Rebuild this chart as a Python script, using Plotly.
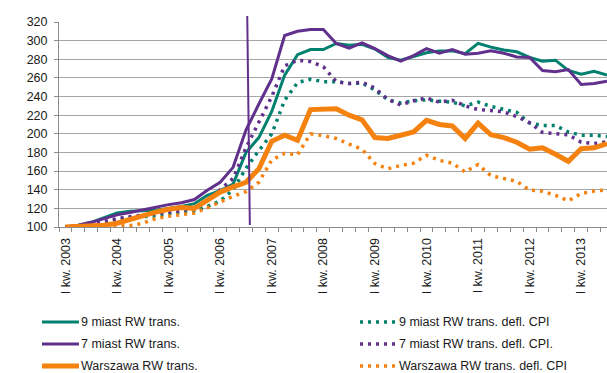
import plotly.graph_objects as go

# Quarter categories, I kw. 2003 .. III kw. 2013
years = list(range(2003, 2014))
roman = ["I", "II", "III", "IV"]
quarters = [f"{r} kw. {y}" for y in years for r in roman][:43]

# Price indices, I kw. 2003 = 100
miast9 = [100, 102, 105, 110, 115, 117, 117.5, 118, 120, 122, 125, 134, 139, 146,
          180, 196, 224, 263, 285, 290.5, 290.5, 297, 295, 296, 291, 282, 279, 283,
          287, 289, 289, 286, 297, 293, 290, 288, 282, 278, 279, 268, 264, 267, 263]
miast7 = [100, 102, 105, 109, 113, 115.5, 118.5, 121.5, 124, 126, 129.5, 139.5, 148,
          164, 204, 232, 259, 305.5, 310, 312, 312, 297, 292, 297.5, 291.5, 284, 278,
          284, 291.5, 286.5, 290.5, 285.5, 286.5, 289, 286.5, 282.5, 282, 268, 266.5,
          269, 253, 254, 256.5]
warszawa = [100, 100.5, 101, 102, 104, 108, 112.5, 116, 119, 121, 120, 129.5, 137.5,
            143, 148, 162.5, 192, 198.5, 193, 226, 226, 227, 220, 215, 196, 195, 198.5,
            202, 214.5, 210, 208.5, 195, 211.5, 199, 196, 191, 183.5, 185, 178, 170.5,
            184, 185, 189.5]
miast9_cpi = [100, 100.5, 102, 104.5, 108, 110, 111, 112, 114, 115.5, 117.5, 122, 128,
              140, 163, 182, 200, 236, 255, 258.5, 256, 256, 254, 254.5, 247, 236.5, 233,
              235.5, 236.5, 235, 234, 230, 234, 229.5, 226, 223, 211.5, 209, 209, 202,
              198.5, 198.5, 197]
miast7_cpi = [100, 101, 103, 106, 109, 111, 113, 114.5, 116, 117.5, 121, 128, 140, 152,
              185, 212, 240, 273, 279, 277.5, 272, 256, 254, 255.5, 249, 237, 231, 235.5,
              238.5, 234, 236, 230, 226, 225, 223.5, 218.5, 212, 201.5, 200, 199, 191,
              189.5, 191.5]
warszawa_cpi = [100, 100, 100, 100.5, 101, 101.5, 104, 109, 111.5, 113.5, 115, 120.5,
                127, 133, 138, 148, 172, 179, 177.5, 200, 198, 195, 189, 183.5, 168,
                162.5, 166, 168.5, 177, 171.5, 168.5, 159, 167, 155, 152, 149, 139.5,
                138.5, 134, 128, 136, 138.5, 140]

TEAL = "#00806e"
PURPLE = "#60308c"
ORANGE = "#f5820f"
FONT = "Liberation Sans, Arial, sans-serif"
TEXT = "#1a1a1a"
DOTS = "3px,5px"

W, H = 607, 373
M_L, M_R, M_T, M_B = 59, 0, 22, 146
PLOT_W = W - M_L - M_R
PLOT_H = H - M_T - M_B


def px(xp):
    """page x pixel -> paper fraction"""
    return (xp - M_L) / PLOT_W


def py(yp):
    """page y pixel -> paper fraction"""
    return (H - M_B - yp) / PLOT_H


x = list(range(len(quarters)))

# (name, values, colour, width, dash, legend column, legend row)
series = [
    ("9 miast RW trans.", miast9, TEAL, 3, "solid", 0, 0),
    ("9 miast RW trans. defl. CPI", miast9_cpi, TEAL, 3.5, DOTS, 1, 0),
    ("7 miast RW trans.", miast7, PURPLE, 3, "solid", 0, 1),
    ("7 miast RW trans. defl. CPI.", miast7_cpi, PURPLE, 3.5, DOTS, 1, 1),
    ("Warszawa RW trans.", warszawa, ORANGE, 5, "solid", 0, 2),
    ("Warszawa RW trans. defl. CPI", warszawa_cpi, ORANGE, 3.5, DOTS, 1, 2),
]

fig = go.Figure()
for name, vals, color, width, dash, _, _ in series:
    fig.add_trace(go.Scatter(
        x=x, y=vals, name=name, mode="lines",
        line=dict(color=color, width=width, dash=dash),
        hoverinfo="skip",
    ))

# vertical marker line in III kw. 2006
fig.add_shape(type="line", xref="x", yref="paper",
              x0=14.1, y0=py(16), x1=14.3, y1=py(225),
              line=dict(color=PURPLE, width=2))

# legend: two columns, three rows under the axis labels
col_x = [42, 360]
row_y = [322, 344, 366]
sample_len = 37
for name, _, color, width, dash, col, row in series:
    x0 = col_x[col]
    y0 = row_y[row]
    fig.add_shape(type="line", xref="paper", yref="paper",
                  x0=px(x0), x1=px(x0 + sample_len), y0=py(y0), y1=py(y0),
                  line=dict(color=color, width=width, dash=dash))
    fig.add_annotation(xref="paper", yref="paper", x=px(x0 + sample_len),
                       y=py(y0), text=name, showarrow=False,
                       xanchor="left", yanchor="middle",
                       font=dict(family=FONT, size=12.5, color=TEXT))

tick_idx = list(range(0, len(quarters), 4))

fig.update_layout(
    width=W, height=H,
    margin=dict(l=M_L, r=M_R, t=M_T, b=M_B, autoexpand=False),
    paper_bgcolor="white", plot_bgcolor="white",
    font=dict(family=FONT, size=12.5, color=TEXT),
    showlegend=False,
    xaxis=dict(
        range=[-0.5, 42], tickmode="array", tickvals=tick_idx,
        ticktext=[quarters[i] for i in tick_idx], tickangle=-90,
        ticks="", showgrid=False, zeroline=False,
        showline=True, linecolor="#8c8c8c", linewidth=1,
        ticklabelstandoff=5,
        minor=dict(ticks="outside", tick0=-0.5, dtick=1, ticklen=4,
                   tickcolor="#8c8c8c", showgrid=False),
        tickfont=dict(size=12.5),
    ),
    yaxis=dict(
        range=[100, 320], tick0=100, dtick=20,
        showgrid=True, gridcolor="#a6a6a6", gridwidth=1,
        zeroline=False, showline=True, linecolor="#8c8c8c", linewidth=1,
        ticks="outside", ticklen=4, tickcolor="#8c8c8c",
        ticklabelstandoff=4, tickfont=dict(size=12.5),
    ),
)

fig.write_html("out.html")
